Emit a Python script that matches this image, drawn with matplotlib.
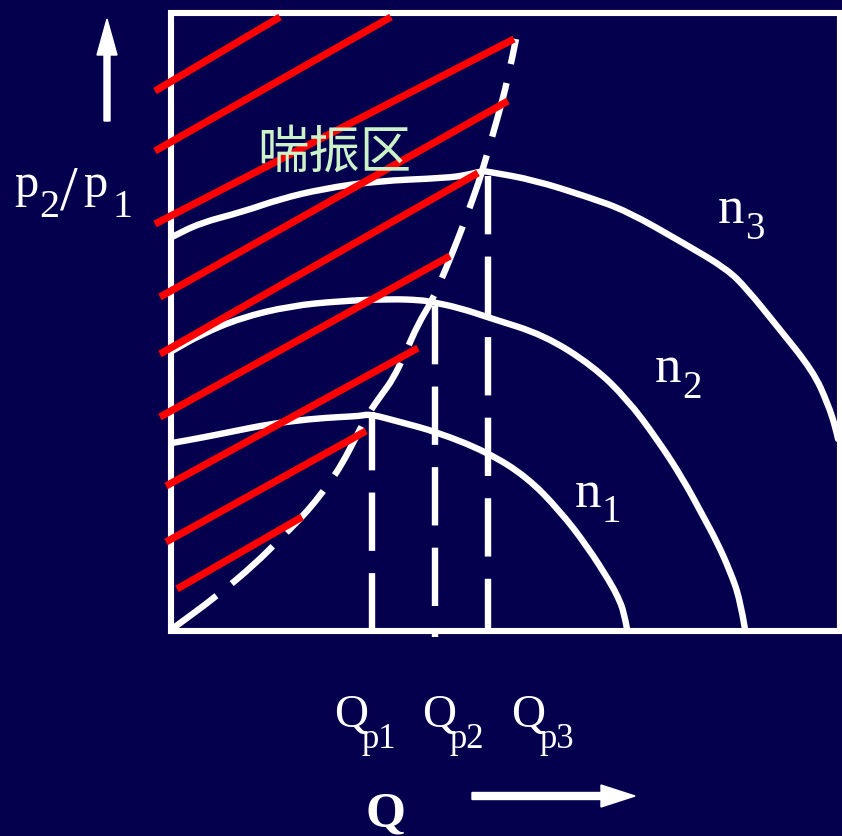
import matplotlib
matplotlib.use("Agg")
import matplotlib.pyplot as plt
from matplotlib.patches import Rectangle, PathPatch
from matplotlib.path import Path

plt.rcParams['lines.scale_dashes'] = False

# ---------------- data (pixel-space of the schematic) ----------------
n1_x = [172, 200, 230, 270, 310, 340, 360, 370, 400, 437, 487, 527, 560, 587, 610, 618, 624, 627]
n1_y = [444, 439, 433, 425, 420, 418, 417, 415, 423, 433, 453, 478, 512, 547, 583, 598, 613, 630]

n2_x = [172, 200, 240, 290, 340, 390, 420, 432, 460, 490, 544, 593, 627, 657, 683, 703, 717, 730, 740, 745]
n2_y = [352, 336, 319, 307, 302, 300, 301, 303, 309, 319, 336, 367, 400, 440, 480, 517, 543, 572, 600, 630]

n3_x = [172, 200, 242, 280, 322, 376, 446, 467, 482, 490, 534, 588, 627, 685, 727, 747, 777, 813, 828, 836, 838]
n3_y = [238, 224, 213, 200, 190, 182, 179, 176, 172, 173, 181, 198, 212, 245, 270, 290, 327, 372, 405, 430, 440]

surge_x = [172, 217, 255, 280, 300, 315, 330, 342, 355, 368, 382, 393, 405, 418, 432, 445, 460, 475, 482, 497, 508, 516]
surge_y = [630, 597, 565, 540, 520, 503, 483, 465, 440, 415, 395, 380, 355, 325, 302, 272, 235, 194, 173, 121, 80, 40]

# vertical dashed lines: x, top y, bottom y
vline_x = [372, 435, 488]
vline_top = [413, 307, 177]
vline_bot = [632, 638, 632]

# red hatch lines of the surge zone: start/end
red_x0 = [155, 155, 155, 160, 160, 160, 166, 166, 177]
red_y0 = [92, 152, 225, 298, 355, 418, 487, 543, 590]
red_x1 = [280, 391, 514, 508, 478, 450, 418, 366, 302]
red_y1 = [18, 18, 40, 102, 174, 257, 349, 432, 518]

box_left, box_top, box_right, box_bottom = 171, 14, 840, 632

bg = '#04004E'
white = '#FFFFFF'
red = '#FF0000'
green_txt = '#CCF2C8'

fig = plt.figure(figsize=(8.42, 8.37), dpi=100)
fig.patch.set_facecolor(bg)
ax = fig.add_axes([0, 0, 1, 1])
ax.set_facecolor(bg)
ax.set_xlim(0, 842)
ax.set_ylim(837, 0)
ax.axis('off')

LW = 4.6


def smooth_path(xs, ys):
    """Quadratic Bezier path using the read points as control points."""
    pts = list(zip(xs, ys))
    verts = [pts[0]]
    codes = [Path.MOVETO]
    mid = ((pts[0][0] + pts[1][0]) / 2, (pts[0][1] + pts[1][1]) / 2)
    verts.append(mid); codes.append(Path.LINETO)
    for i in range(1, len(pts) - 1):
        if i < len(pts) - 2:
            end = ((pts[i][0] + pts[i + 1][0]) / 2, (pts[i][1] + pts[i + 1][1]) / 2)
        else:
            end = pts[i + 1]
        verts += [pts[i], end]
        codes += [Path.CURVE3, Path.CURVE3]
    return Path(verts, codes)


# box
ax.add_patch(Rectangle((box_left, box_top), box_right - box_left, box_bottom - box_top,
                       fill=False, edgecolor=white, linewidth=4.4, zorder=2))

# performance curves
for xs, ys in [(n1_x, n1_y), (n2_x, n2_y), (n3_x, n3_y)]:
    ax.add_patch(PathPatch(smooth_path(xs, ys), fill=False, edgecolor=white, lw=LW,
                           joinstyle='round', capstyle='round', zorder=3))

# surge line (dashed)
ax.add_patch(PathPatch(smooth_path(surge_x, surge_y), fill=False, edgecolor=white, lw=LW,
                       linestyle=(0, (40, 14)), capstyle='butt', zorder=3))

# vertical dashed lines
for x, t, b in zip(vline_x, vline_top, vline_bot):
    ax.plot([x, x], [t, b], color=white, lw=LW, linestyle=(0, (42, 16)),
            dash_capstyle='butt', zorder=3)

# red hatch
for x0, y0, x1, y1 in zip(red_x0, red_y0, red_x1, red_y1):
    ax.plot([x0, x1], [y0, y1], color=red, lw=5.2, solid_capstyle='butt', zorder=4)

# arrows
ax.arrow(107, 122, 0, -102, width=6, head_width=20, head_length=36,
         length_includes_head=True, color=white, zorder=5)
ax.arrow(472, 797, 163, 0, width=7, head_width=22, head_length=34,
         length_includes_head=True, color=white, zorder=5)

serif = 'Liberation Serif'


def txt(x, y, s, size, weight='normal'):
    ax.text(x, y, s, fontsize=size, family=serif, color=white, ha='left',
            va='baseline', weight=weight, zorder=6)


# p2/p1
txt(14, 197, 'p', 35)
txt(39, 217, '2', 29)
txt(60, 209, '/', 46)
txt(83, 197, 'p', 35)
txt(112, 217, '1', 29)

# n labels
txt(718, 223, 'n', 38); txt(745, 239, '3', 28)
txt(655, 382, 'n', 38); txt(682, 398, '2', 28)
txt(575, 507, 'n', 38); txt(602, 522, '1', 28)

# Q labels
q_x = [334, 422, 511]
q_sub = ['p1', 'p2', 'p3']
for x, s in zip(q_x, q_sub):
    txt(x, 727, 'Q', 34)
    txt(x + 28, 748, s, 25)

txt(366, 827, 'Q', 37, weight='bold')

# Chinese label
ax.text(334, 153, '喘振区', fontsize=37, family=['Noto Sans CJK SC', 'DejaVu Sans'],
        color=green_txt, ha='center', va='center', zorder=6)

fig.savefig('out.png', dpi=100, facecolor=bg)
